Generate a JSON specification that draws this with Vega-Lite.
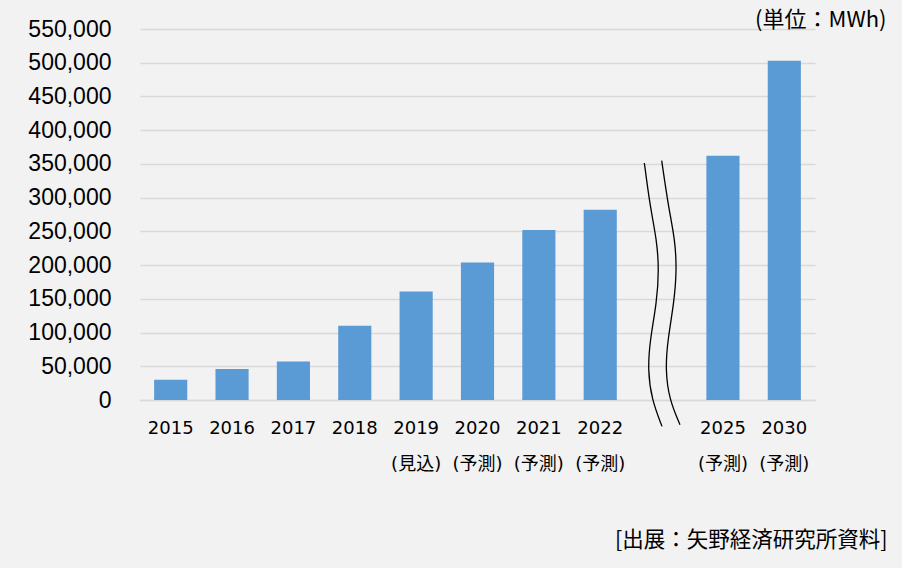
{
  "$schema": "https://vega.github.io/schema/vega-lite/v6.json",
  "autosize": {"type": "none"},
  "width": 675,
  "height": 371,
  "padding": {"left": 140, "top": 29, "right": 87, "bottom": 168},
  "background": "#f2f2f2",
  "config": {
    "view": {"stroke": null},
    "axis": {"grid": false}
  },
  "datasets": {
    "bars": [
      {"year": "2015", "value": 30000},
      {"year": "2016", "value": 46000},
      {"year": "2017", "value": 57000},
      {"year": "2018", "value": 110000},
      {"year": "2019", "value": 161000},
      {"year": "2020", "value": 204000},
      {"year": "2021", "value": 252000},
      {"year": "2022", "value": 282000},
      {"year": "2025", "value": 362000},
      {"year": "2030", "value": 503000}
    ],
    "breaks": [
      {"line": "a", "i": 0, "pos": 8.219, "v": 351400},
      {"line": "a", "i": 1, "pos": 8.312, "v": 287000},
      {"line": "a", "i": 2, "pos": 8.421, "v": 237700},
      {"line": "a", "i": 3, "pos": 8.458, "v": 193200},
      {"line": "a", "i": 4, "pos": 8.421, "v": 144300},
      {"line": "a", "i": 5, "pos": 8.312, "v": 89400},
      {"line": "a", "i": 6, "pos": 8.274, "v": 44900},
      {"line": "a", "i": 7, "pos": 8.339, "v": 400},
      {"line": "a", "i": 8, "pos": 8.507, "v": -39100},
      {"line": "b", "i": 0, "pos": 8.502, "v": 354800},
      {"line": "b", "i": 1, "pos": 8.610, "v": 287000},
      {"line": "b", "i": 2, "pos": 8.719, "v": 237700},
      {"line": "b", "i": 3, "pos": 8.747, "v": 193200},
      {"line": "b", "i": 4, "pos": 8.703, "v": 144300},
      {"line": "b", "i": 5, "pos": 8.600, "v": 89400},
      {"line": "b", "i": 6, "pos": 8.561, "v": 44900},
      {"line": "b", "i": 7, "pos": 8.626, "v": 400},
      {"line": "b", "i": 8, "pos": 8.800, "v": -36600}
    ]
  },
  "layer": [
    {
      "data": {"name": "bars"},
      "mark": {"type": "bar", "color": "#5b9bd5"},
      "encoding": {
        "x": {
          "field": "year",
          "type": "nominal",
          "sort": null,
          "scale": {
            "domain": ["2015", "2016", "2017", "2018", "2019", "2020", "2021", "2022", "gap", "2025", "2030"],
            "paddingInner": 0.46,
            "paddingOuter": 0.23
          },
          "axis": {
            "title": "[出展：矢野経済研究所資料]",
            "titleFont": "Noto Sans CJK JP",
            "titleFontSize": 21.5,
            "titleFontWeight": "normal",
            "titleColor": "#000000",
            "titleAnchor": "end",
            "titleAlign": "right",
            "titleBaseline": "alphabetic",
            "titleX": 747,
            "titleY": 146,
            "labelAngle": 0,
            "labelFont": "DejaVu Sans, Noto Sans CJK JP",
            "labelFontSize": 18,
            "labelColor": "#000000",
            "labelBaseline": "top",
            "labelLineHeight": 36,
            "labelPadding": 19,
            "labelOverlap": false,
            "labelExpr": "datum.value == 'gap' ? '' : datum.value == '2019' ? ['2019', '(見込)'] : (datum.value == '2015' || datum.value == '2016' || datum.value == '2017' || datum.value == '2018') ? datum.value : [datum.value, '(予測)']",
            "ticks": false,
            "domain": true,
            "domainColor": "#d9d9d9",
            "domainWidth": 1.5,
            "encode": {
              "labels": {
                "update": {
                  "dy": {"signal": "datum.value >= '2019' && datum.value != 'gap' ? 4 : 0"}
                }
              }
            }
          }
        },
        "y": {
          "field": "value",
          "type": "quantitative",
          "scale": {"domain": [0, 550000], "nice": false, "zero": true},
          "axis": {
            "title": "(単位：MWh)",
            "titleFont": "Noto Sans CJK JP",
            "titleFontSize": 22,
            "titleFontWeight": "normal",
            "titleColor": "#000000",
            "titleAngle": 0,
            "titleAlign": "right",
            "titleBaseline": "alphabetic",
            "titleX": 746,
            "titleY": -3,
            "values": [0, 50000, 100000, 150000, 200000, 250000, 300000, 350000, 400000, 450000, 500000, 550000],
            "format": ",d",
            "labelFont": "Liberation Sans",
            "labelFontSize": 23,
            "labelColor": "#000000",
            "labelPadding": 29,
            "labelOverlap": false,
            "ticks": false,
            "domain": false,
            "grid": true,
            "gridColor": "#d9d9d9",
            "gridWidth": 1.5
          }
        }
      }
    },
    {
      "data": {"name": "breaks"},
      "mark": {"type": "line", "interpolate": "basis", "color": "#000000", "strokeWidth": 1.3, "clip": false},
      "encoding": {
        "x": {
          "field": "pos",
          "type": "quantitative",
          "scale": {"domain": [0, 11], "nice": false, "zero": false},
          "axis": null
        },
        "y": {"field": "v", "type": "quantitative", "axis": null},
        "detail": {"field": "line", "type": "nominal"},
        "order": {"field": "i", "type": "quantitative"}
      }
    }
  ],
  "resolve": {"scale": {"x": "independent"}, "axis": {"x": "independent", "y": "independent"}}
}
